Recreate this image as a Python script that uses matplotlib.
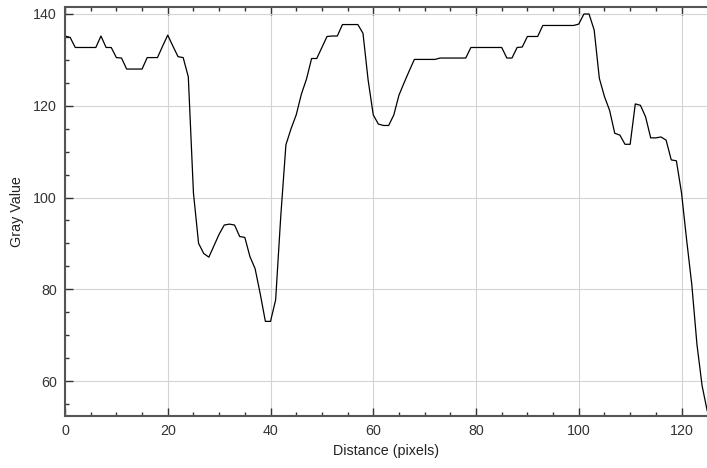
import numpy as np
import matplotlib
matplotlib.use('Agg')
import matplotlib.pyplot as plt
from matplotlib.ticker import MultipleLocator

# profile values, one per pixel of distance
distance = list(range(126))
gray = [135.2, 134.9, 132.7, 132.7, 132.7, 132.7, 132.7, 135.2, 132.7, 132.7,
        130.5, 130.4, 128.0, 128.0, 128.0, 128.0, 130.5, 130.5, 130.5, 133.0,
        135.4, 133.0, 130.7, 130.5, 126.3, 101.0, 90.0, 87.8, 87.0, 89.5,
        92.0, 94.0, 94.2, 94.0, 91.5, 91.3, 87.1, 84.5, 79.0, 73.0,
        73.0, 77.7, 96.0, 111.5, 115.0, 118.0, 122.5, 125.8, 130.3, 130.3,
        132.7, 135.1, 135.2, 135.2, 137.7, 137.7, 137.7, 137.7, 135.8, 125.6,
        118.0, 116.0, 115.7, 115.7, 118.0, 122.3, 125.0, 127.6, 130.1, 130.1,
        130.1, 130.1, 130.1, 130.4, 130.4, 130.4, 130.4, 130.4, 130.4, 132.7,
        132.7, 132.7, 132.7, 132.7, 132.7, 132.7, 130.4, 130.4, 132.7, 132.8,
        135.1, 135.1, 135.1, 137.5, 137.5, 137.5, 137.5, 137.5, 137.5, 137.5,
        137.8, 140.0, 140.0, 136.5, 126.0, 122.0, 119.0, 114.0, 113.6, 111.6,
        111.6, 120.4, 120.1, 117.6, 113.0, 113.0, 113.2, 112.5, 108.2, 108.0,
        101.0, 90.7, 81.0, 68.0, 59.0, 53.5]

plt.rcParams['font.family'] = ['Liberation Sans', 'DejaVu Sans']

fig = plt.figure(figsize=(7.07, 4.68), dpi=100)
ax = fig.add_axes([65 / 707, 1 - 415.7 / 468, 641.7 / 707, 408.4 / 468])

ax.plot(distance, gray, color='black', lw=0.9)

ax.set_xlim(0, 124.9)
ax.set_ylim(52.44, 141.46)
ax.xaxis.set_major_locator(MultipleLocator(20))
ax.xaxis.set_minor_locator(MultipleLocator(5))
ax.yaxis.set_major_locator(MultipleLocator(20))
ax.yaxis.set_minor_locator(MultipleLocator(5))
ax.grid(True, which='major', color='#d4d4d4', lw=0.8)
ax.set_axisbelow(True)

for s in ax.spines.values():
    s.set_color('#555555')
    s.set_linewidth(1.5)
ax.spines['right'].set_visible(False)

ax.tick_params(which='both', direction='in', top=True, right=False,
               colors='#333333', labelsize=10.3, pad=6)
ax.tick_params(which='major', length=5.5, width=1)
ax.tick_params(which='minor', length=3, width=1)

ax.set_xlabel('Distance (pixels)', fontsize=10.3, color='#222222', labelpad=4)
ax.set_ylabel('Gray Value', fontsize=10.3, color='#222222', labelpad=6)

fig.savefig('out.png', dpi=100)
